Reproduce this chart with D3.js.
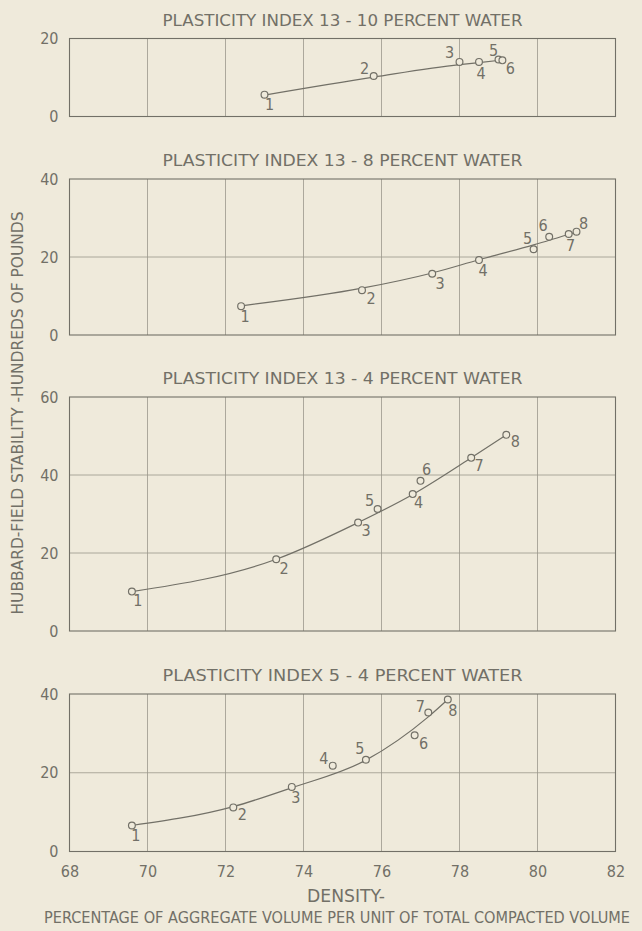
<!DOCTYPE html>
<html><head><meta charset="utf-8">
<script src="https://cdn.jsdelivr.net/npm/d3@7"></script>
<style>
html,body{margin:0;padding:0;background:#efeadb;}
svg{display:block;}
text{font-family:"DejaVu Sans Condensed","DejaVu Sans",sans-serif;fill:#727067;font-weight:300;}
</style></head><body>
<svg id="chart" width="642" height="931"></svg>
<script>
// ---------- DATA ----------
const xTicks = [68, 70, 72, 74, 76, 78, 80, 82];
const panelTitles = [
  "PLASTICITY INDEX 13  -  10 PERCENT WATER",
  "PLASTICITY INDEX 13  -  8 PERCENT WATER",
  "PLASTICITY INDEX 13  -  4 PERCENT WATER",
  "PLASTICITY INDEX 5  -  4 PERCENT WATER"
];
const yMax = [20, 40, 60, 40];
const yTicks = [[0, 20], [0, 20, 40], [0, 20, 40, 60], [0, 20, 40]];

// measured points: density, stability (hundreds of pounds), specimen number
const p1Density = [73.0, 75.8, 78.0, 78.5, 79.0, 79.1];
const p1Stability = [5.6, 10.4, 14.0, 14.0, 14.6, 14.4];
const p1Labels = ["1", "2", "3", "4", "5", "6"];

const p2Density = [72.4, 75.5, 77.3, 78.5, 79.9, 80.3, 80.8, 81.0];
const p2Stability = [7.4, 11.5, 15.7, 19.2, 22.0, 25.2, 25.9, 26.5];
const p2Labels = ["1", "2", "3", "4", "5", "6", "7", "8"];

const p3Density = [69.6, 73.3, 75.4, 75.9, 76.8, 77.0, 78.3, 79.2];
const p3Stability = [10.1, 18.4, 27.8, 31.3, 35.1, 38.5, 44.4, 50.3];
const p3Labels = ["1", "2", "3", "5", "4", "6", "7", "8"];

const p4Density = [69.6, 72.2, 73.7, 74.75, 75.6, 76.85, 77.2, 77.7];
const p4Stability = [6.6, 11.2, 16.4, 21.8, 23.3, 29.5, 35.3, 38.6];
const p4Labels = ["1", "2", "3", "4", "5", "6", "7", "8"];

// hand-fitted curves
const c1Density = [73.0, 75.8, 78.0, 78.5, 79.1];
const c1Stability = [5.5, 10.1, 13.3, 13.8, 14.5];
const c2Density = [72.5, 75.5, 77.3, 78.5, 79.9, 81.0];
const c2Stability = [7.6, 12.0, 15.9, 19.3, 23.1, 26.4];
const c3Density = [69.6, 73.3, 75.4, 76.8, 78.3, 79.2];
const c3Stability = [10.1, 18.4, 27.8, 35.0, 44.4, 50.3];
const c4Density = [69.6, 72.2, 73.7, 75.6, 77.2, 77.7];
const c4Stability = [6.6, 11.4, 16.2, 23.2, 34.2, 38.6];

// ---------- LAYOUT ----------
const labelOffsets = [
  [[5, 10], [-9, -7], [-10, -9], [2, 12], [-5, -9], [8, 8]],
  [[4, 10], [9, 8], [8, 10], [4, 10], [-6, -11], [-6, -11], [2, 12], [7, -8]],
  [[6, 9], [8, 9], [8, 8], [-8, -8], [6, 8], [6, -11], [8, 8], [9, 7]],
  [[4, 10], [9, 7], [4, 11], [-9, -7], [-6, -11], [9, 8], [-8, -6], [5, 11]]
];
const frames = [[38.5, 116.5], [179, 335], [397, 631], [694, 851.5]];
const plotLeft = 69.5, plotRight = 615.5;

const panels = [
  {d: p1Density, s: p1Stability, l: p1Labels, cd: c1Density, cs: c1Stability},
  {d: p2Density, s: p2Stability, l: p2Labels, cd: c2Density, cs: c2Stability},
  {d: p3Density, s: p3Stability, l: p3Labels, cd: c3Density, cs: c3Stability},
  {d: p4Density, s: p4Stability, l: p4Labels, cd: c4Density, cs: c4Stability}
];

const ink = "#727067", grid = "#9a978c", bg = "#efeadb";
const svg = d3.select("#chart");
const x = d3.scaleLinear().domain([68, 82]).range([plotLeft, plotRight]);

panels.forEach((p, i) => {
  const [top, bottom] = frames[i];
  const y = d3.scaleLinear().domain([0, yMax[i]]).range([bottom, top]);
  const g = svg.append("g");

  // vertical grid
  g.selectAll(".vg").data(xTicks.slice(1, -1)).enter().append("line")
    .attr("x1", d => x(d)).attr("x2", d => x(d))
    .attr("y1", top).attr("y2", bottom)
    .attr("stroke", grid).attr("stroke-width", 0.8);
  // horizontal grid
  g.selectAll(".hg").data(yTicks[i].slice(1, -1)).enter().append("line")
    .attr("x1", plotLeft).attr("x2", plotRight)
    .attr("y1", d => y(d)).attr("y2", d => y(d))
    .attr("stroke", grid).attr("stroke-width", 0.8);
  // frame
  g.append("rect").attr("x", plotLeft).attr("y", top)
    .attr("width", plotRight - plotLeft).attr("height", bottom - top)
    .attr("fill", "none").attr("stroke", ink).attr("stroke-width", 1.1);

  // y axis
  const ax = d3.axisLeft(y).tickValues(yTicks[i]).tickSize(0).tickPadding(11).tickFormat(d3.format("d"));
  const ag = g.append("g").attr("transform", `translate(${plotLeft},0)`).call(ax);
  ag.select(".domain").remove();
  ag.selectAll("text").attr("font-size", 16).attr("fill", ink)
    .style("font-family", '"DejaVu Sans Condensed","DejaVu Sans",sans-serif').style("font-weight", 300);

  // title
  g.append("text").attr("x", (plotLeft + plotRight) / 2).attr("y", top - 18)
    .attr("text-anchor", "middle").attr("dominant-baseline", "central")
    .attr("font-size", 15.5).attr("textLength", 360).attr("lengthAdjust", "spacingAndGlyphs")
    .text(panelTitles[i]);

  // fitted curve
  const curvePts = p.cd.map((d, k) => [d, p.cs[k]]);
  g.append("path").datum(curvePts)
    .attr("d", d3.line().x(d => x(d[0])).y(d => y(d[1])).curve(d3.curveMonotoneX))
    .attr("fill", "none").attr("stroke", ink).attr("stroke-width", 1.2);

  // points
  const pts = p.d.map((d, k) => ({x: d, y: p.s[k], lab: p.l[k], off: labelOffsets[i][k]}));
  g.selectAll(".pt").data(pts).enter().append("circle")
    .attr("cx", d => x(d.x)).attr("cy", d => y(d.y)).attr("r", 3.4)
    .attr("fill", bg).attr("stroke", ink).attr("stroke-width", 1.2);
  g.selectAll(".lb").data(pts).enter().append("text")
    .attr("x", d => x(d.x) + d.off[0]).attr("y", d => y(d.y) + d.off[1])
    .attr("text-anchor", "middle").attr("dominant-baseline", "central")
    .attr("font-size", 16).text(d => d.lab);
});

// x axis on bottom panel
const xa = d3.axisBottom(x).tickValues(xTicks).tickSize(0).tickPadding(14).tickFormat(d3.format("d"));
const xg = svg.append("g").attr("transform", `translate(0,${frames[3][1]})`).call(xa);
xg.select(".domain").remove();
xg.selectAll("text").attr("font-size", 16).attr("fill", ink)
  .style("font-family", '"DejaVu Sans Condensed","DejaVu Sans",sans-serif').style("font-weight", 300);

svg.append("text").attr("x", 346).attr("y", 896)
  .attr("text-anchor", "middle").attr("dominant-baseline", "central")
  .attr("font-size", 17).attr("textLength", 78).attr("lengthAdjust", "spacingAndGlyphs")
  .text("DENSITY-");
svg.append("text").attr("x", 337).attr("y", 917)
  .attr("text-anchor", "middle").attr("dominant-baseline", "central")
  .attr("font-size", 16.5).attr("textLength", 586).attr("lengthAdjust", "spacingAndGlyphs")
  .text("PERCENTAGE OF AGGREGATE VOLUME PER UNIT OF TOTAL COMPACTED VOLUME");

svg.append("text")
  .attr("transform", "translate(17,413) rotate(-90)")
  .attr("text-anchor", "middle").attr("dominant-baseline", "central")
  .attr("font-size", 16).attr("textLength", 403).attr("lengthAdjust", "spacingAndGlyphs")
  .text("HUBBARD-FIELD STABILITY -HUNDREDS OF POUNDS");
</script>
</body></html>
